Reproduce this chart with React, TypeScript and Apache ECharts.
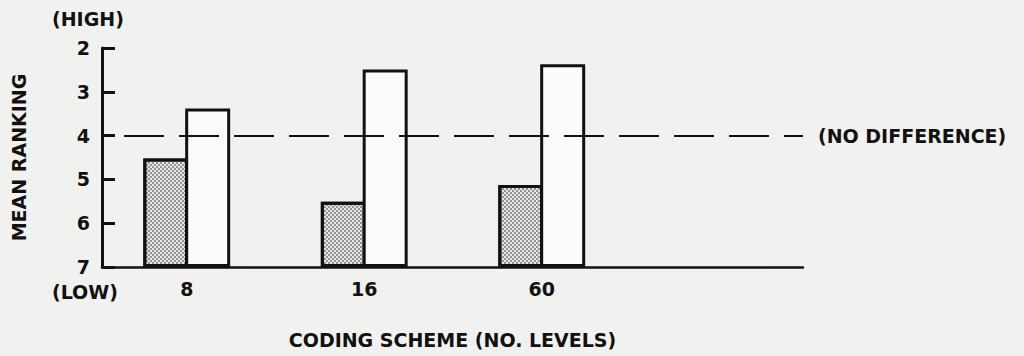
import React, { useEffect, useRef } from "react";
import * as echarts from "echarts";

const categories = ["8", "16", "60", ""];
const shadedValues = [4.52, 5.51, 5.13, null];
const whiteValues = [3.38, 2.49, 2.37, null];
const yTicks = [2, 3, 4, 5, 6, 7];
const noDifference = 4;

const FONT = "DejaVu Sans";

export default function App() {
  const ref = useRef<HTMLDivElement>(null);
  useEffect(() => {
    document.body.style.margin = "0";
    const chart = echarts.init(ref.current!, null, { renderer: "svg" });
    const txt = { fontFamily: FONT, fontWeight: "bold", fontSize: 19, color: "#111" };
    chart.setOption({
      animation: false,
      backgroundColor: "#f1f1ef",
      grid: [
        { left: 98, width: 710, top: 48, bottom: 89, outerBoundsMode: "none", containLabel: false },
        { left: 102, right: 221, top: 48, bottom: 89, outerBoundsMode: "none", containLabel: false },
      ],
      xAxis: [
        {
          type: "category",
          gridIndex: 0,
          data: categories,
          axisLine: { show: false },
          axisTick: { show: false },
          axisLabel: { ...txt, margin: 12 },
        },
        {
          type: "value",
          gridIndex: 1,
          min: 0,
          max: 1,
          splitLine: { show: false },
          axisTick: { show: false },
          axisLabel: { show: false },
          axisLine: { show: true, lineStyle: { color: "#111", width: 2.5 } },
          name: "CODING SCHEME (NO. LEVELS)",
          nameLocation: "middle",
          nameGap: 63,
          nameTextStyle: txt,
        },
      ],
      yAxis: [
        {
          type: "value",
          gridIndex: 0,
          min: yTicks[0],
          max: yTicks[yTicks.length - 1],
          interval: 1,
          inverse: true,
          startValue: 7,
          show: false,
        },
        {
          type: "value",
          gridIndex: 1,
          min: yTicks[0],
          max: yTicks[yTicks.length - 1],
          interval: 1,
          inverse: true,
          splitLine: { show: false },
          axisLine: { show: true, lineStyle: { color: "#111", width: 3 } },
          axisTick: { show: true, inside: true, length: 13, lineStyle: { color: "#111", width: 3 } },
          axisLabel: { ...txt, margin: 12 },
          name: "MEAN RANKING",
          nameLocation: "middle",
          nameGap: 74,
          nameTextStyle: txt,
        },
      ],
      series: [
        {
          type: "bar",
          xAxisIndex: 0,
          yAxisIndex: 0,
          data: shadedValues,
          barWidth: 45,
          barGap: "-7%",
          itemStyle: {
            color: "#e6e6e6",
            borderColor: "#111",
            borderWidth: 3,
            decal: {
              symbol: "circle",
              symbolSize: 0.75,
              color: "#444",
              dashArrayX: [[1.5, 1.5], [0, 1.5, 1.5, 0]],
              dashArrayY: [1.5, 0],
            },
          },
        },
        {
          type: "bar",
          xAxisIndex: 0,
          yAxisIndex: 0,
          data: whiteValues,
          barWidth: 45,
          barGap: "-7%",
          itemStyle: { color: "#fbfbfb", borderColor: "#111", borderWidth: 3 },
        },
        {
          type: "line",
          xAxisIndex: 1,
          yAxisIndex: 1,
          data: [],
          markLine: {
            silent: true,
            symbol: "none",
            lineStyle: { color: "#111", width: 2, type: [40, 15], dashOffset: -22 },
            label: {
              show: true,
              position: "end",
              distance: 15,
              formatter: "(NO DIFFERENCE)",
              ...txt,
            },
            data: [{ yAxis: noDifference }],
          },
        },
      ],
      graphic: [
        { type: "text", left: 52, top: 9, style: { text: "(HIGH)", font: `bold 19px "${FONT}"`, fill: "#111" } },
        { type: "text", left: 52, top: 282, style: { text: "(LOW)", font: `bold 19px "${FONT}"`, fill: "#111" } },
      ],
    });
    return () => chart.dispose();
  }, []);
  return <div ref={ref} style={{ position: "absolute", left: 0, top: 0, width: 1024, height: 356 }} />;
}
